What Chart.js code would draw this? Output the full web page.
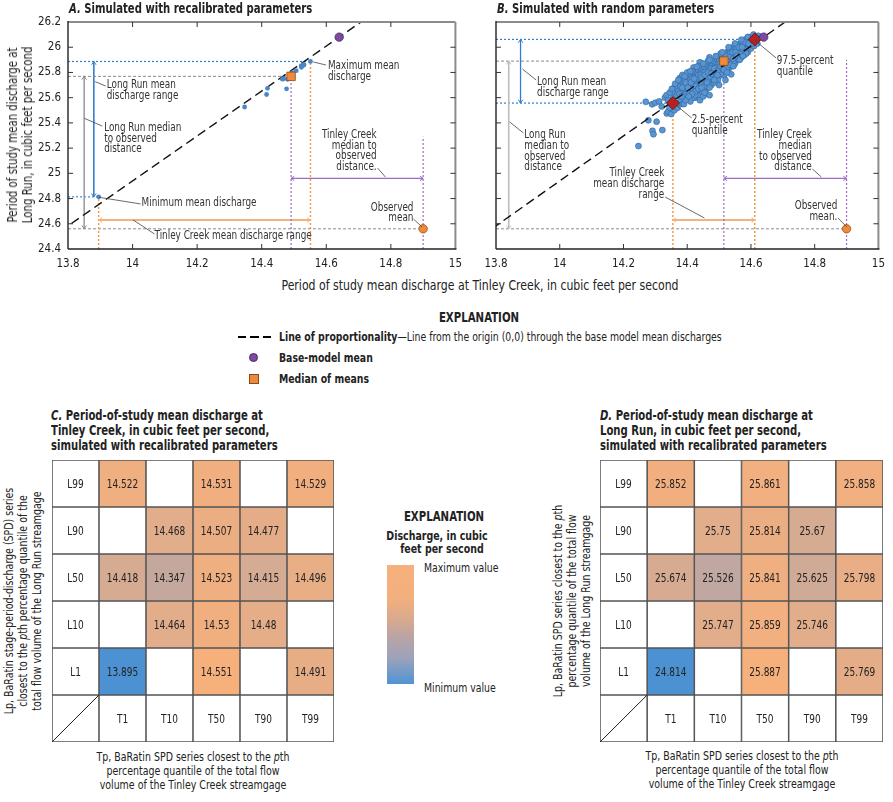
<!DOCTYPE html>
<html>
<head>
<meta charset="utf-8">
<script src="https://cdn.jsdelivr.net/npm/chart.js@4.4.1/dist/chart.umd.min.js"></script>
<style>
body { margin: 0; background: #fff; width: 893px; height: 802px; position: relative; overflow: hidden;
  font-family: "Liberation Sans Narrow", "DejaVu Sans Condensed", "Liberation Sans", sans-serif; color: #222; }
canvas { position: absolute; }
.t { position: absolute; white-space: nowrap; line-height: 1; transform: scaleX(0.83); transform-origin: 0 50%; }
.b { font-weight: bold; }
.title { font-size: 13.5px; font-weight: bold; line-height: 15px; }
.rot { position: absolute; white-space: nowrap; text-align: center; transform: translate(-50%, -50%) rotate(-90deg) scaleX(0.84); }
.ctr { position: absolute; white-space: nowrap; text-align: center; transform: translate(-50%, -50%) scaleX(0.84); }
</style>
</head>
<body>
<canvas id="chartA" width="470" height="275" style="left:0;top:0"></canvas>
<canvas id="chartB" width="423" height="275" style="left:470px;top:0"></canvas>
<canvas id="heatC" width="284" height="284" style="left:51px;top:459px"></canvas>
<canvas id="heatD" width="285" height="284" style="left:599px;top:459px"></canvas>

<div class="t title" style="left:69px;top:1px"><i>A.</i> Simulated with recalibrated parameters</div>
<div class="t title" style="left:497px;top:1px"><i>B.</i> Simulated with random parameters</div>
<div class="rot" style="left:20px;top:135px;font-size:13.5px;line-height:15px">Period of study mean discharge at<br>Long Run, in cubic feet per second</div>
<div class="ctr" style="left:480px;top:285px;font-size:13.5px;transform:translate(-50%,-50%) scaleX(0.9)">Period of study mean discharge at Tinley Creek, in cubic feet per second</div>

<div class="ctr b" style="left:479px;top:317px;font-size:13.5px">EXPLANATION</div>
<div style="position:absolute;left:238px;top:336px;width:33px;height:1.6px;background:repeating-linear-gradient(90deg,#000 0 8px,transparent 8px 12.5px)"></div>
<div class="t" style="left:279px;top:331px;font-size:12.5px"><b>Line of proportionality</b>—Line from the origin (0,0) through the base model mean discharges</div>
<div style="position:absolute;left:249px;top:353px;width:7px;height:7px;border-radius:50%;background:#7d4a9e;border:0.8px solid #4a2668"></div>
<div class="t b" style="left:279px;top:352px;font-size:12.5px">Base-model mean</div>
<div style="position:absolute;left:249px;top:374px;width:8px;height:8px;background:#ee8a3c;border:0.8px solid #8a4a18"></div>
<div class="t b" style="left:279px;top:373px;font-size:12.5px">Median of means</div>

<div class="t title" style="left:51px;top:408px"><i>C.</i> Period-of-study mean discharge at<br>Tinley Creek, in cubic feet per second,<br>simulated with recalibrated parameters</div>
<div class="t title" style="left:600px;top:408px"><i>D.</i> Period-of-study mean discharge at<br>Long Run, in cubic feet per second,<br>simulated with recalibrated parameters</div>

<div class="rot" style="left:23px;top:601px;font-size:12.5px;line-height:14px">Lp, BaRatin stage-period-discharge (SPD) series<br>closest to the <i>p</i>th percentage quantile of the<br>total flow volume of the Long Run streamgage</div>
<div class="ctr" style="left:193px;top:771px;font-size:12.5px;line-height:14px">Tp, BaRatin SPD series closest to the <i>p</i>th<br>percentage quantile of the total flow<br>volume of the Tinley Creek streamgage</div>
<div class="rot" style="left:572px;top:601px;font-size:12.5px;line-height:14px">Lp, BaRatin SPD series closest to the <i>p</i>th<br>percentage quantile of the total flow<br>volume of the Long Run streamgage</div>
<div class="ctr" style="left:742px;top:770px;font-size:12.5px;line-height:14px">Tp, BaRatin SPD series closest to the <i>p</i>th<br>percentage quantile of the total flow<br>volume of the Tinley Creek streamgage</div>

<div class="ctr b" style="left:444px;top:516px;font-size:13.5px">EXPLANATION</div>
<div class="ctr b" style="left:437px;top:542px;font-size:12.5px;line-height:12.5px">Discharge, in cubic<br>&nbsp;&nbsp;&nbsp;feet per second</div>
<div style="position:absolute;left:387px;top:565px;width:27px;height:119px;background:linear-gradient(to bottom,#f5b07c 0%,#f3af7e 28%,#d9aa8c 45%,#bba4a4 60%,#9ea2ba 78%,#4f94d4 100%)"></div>
<div class="t" style="left:424px;top:562px;font-size:12.5px">Maximum value</div>
<div class="t" style="left:424px;top:682px;font-size:12.5px">Minimum value</div>

<script>
// ---- data ----
const rowLabels = ['L99', 'L90', 'L50', 'L10', 'L1'];
const colLabels = ['T1', 'T10', 'T50', 'T90', 'T99'];

// panel C, Tinley Creek mean discharge (rows L99..L1, cols T1..T99)
const tinleyMeans = [
	[14.522, null, 14.531, null, 14.529],
	[null, 14.468, 14.507, 14.477, null],
	[14.418, 14.347, 14.523, 14.415, 14.496],
	[null, 14.464, 14.53, 14.48, null],
	[13.895, null, 14.551, null, 14.491],
];
// panel D, Long Run mean discharge
const longRunMeans = [
	[25.852, null, 25.861, null, 25.858],
	[null, 25.75, 25.814, 25.67, null],
	[25.674, 25.526, 25.841, 25.625, 25.798],
	[null, 25.747, 25.859, 25.746, null],
	[24.814, null, 25.887, null, 25.769],
];

const baseModelMean = [14.64, 26.08];
const observedMean = [14.9, 24.56];
const randomMedian = [14.515, 25.89];
const randomQ025 = [14.355, 25.557];
const randomQ975 = [14.612, 26.062];

const xTickValues = [13.8, 14, 14.2, 14.4, 14.6, 14.8, 15];
const yTickValues = [24.4, 24.6, 24.8, 25, 25.2, 25.4, 25.6, 25.8, 26, 26.2];

// panel B cloud of simulated means (Tinley, Long Run), read by eye
const randomMeans = [
	[14.247, 25.216], [14.291, 25.337], [14.294, 25.31], [14.304, 25.41], [14.322, 25.343], [14.278, 25.42],
	[14.27, 25.567], [14.29, 25.547], [14.30, 25.56], [14.312, 25.57], [14.336, 25.475], [14.34, 25.49],
	[14.35, 25.47], [14.36, 25.5], [14.345, 25.52], [14.33, 25.6], [14.335, 25.62], [14.32, 25.53],
	[14.34, 25.58], [14.355, 25.6], [14.36, 25.64], [14.365, 25.55], [14.37, 25.52], [14.375, 25.56],
	[14.372, 25.56], [14.368, 25.62], [14.371, 25.66], [14.367, 25.70],
	[14.38, 25.58], [14.383, 25.64], [14.378, 25.69], [14.381, 25.73], [14.386, 25.55],
	[14.39, 25.60], [14.393, 25.65], [14.388, 25.70], [14.391, 25.74], [14.396, 25.67],
	[14.40, 25.60], [14.403, 25.66], [14.398, 25.70], [14.401, 25.73], [14.404, 25.76], [14.397, 25.63],
	[14.41, 25.62], [14.407, 25.66], [14.412, 25.70], [14.409, 25.74], [14.413, 25.78], [14.406, 25.68],
	[14.42, 25.61], [14.417, 25.66], [14.423, 25.70], [14.418, 25.73], [14.421, 25.77], [14.424, 25.80],
	[14.43, 25.64], [14.427, 25.68], [14.433, 25.72], [14.428, 25.75], [14.431, 25.79], [14.434, 25.82], [14.426, 25.60],
	[14.44, 25.66], [14.437, 25.70], [14.443, 25.73], [14.438, 25.76], [14.441, 25.80], [14.444, 25.83], [14.436, 25.62],
	[14.45, 25.67], [14.447, 25.71], [14.453, 25.75], [14.448, 25.78], [14.451, 25.81], [14.454, 25.84], [14.446, 25.65],
	[14.46, 25.69], [14.457, 25.73], [14.463, 25.77], [14.458, 25.80], [14.461, 25.83], [14.464, 25.86], [14.456, 25.66],
	[14.47, 25.71], [14.467, 25.75], [14.473, 25.79], [14.468, 25.82], [14.471, 25.85], [14.474, 25.87], [14.466, 25.68],
	[14.48, 25.73], [14.477, 25.77], [14.483, 25.80], [14.478, 25.83], [14.481, 25.86], [14.484, 25.89], [14.476, 25.70],
	[14.49, 25.75], [14.487, 25.79], [14.493, 25.82], [14.488, 25.85], [14.491, 25.88], [14.494, 25.91],
	[14.50, 25.77], [14.497, 25.81], [14.503, 25.84], [14.498, 25.87], [14.501, 25.90], [14.504, 25.93], [14.496, 25.74],
	[14.51, 25.79], [14.507, 25.83], [14.513, 25.86], [14.508, 25.89], [14.511, 25.92], [14.514, 25.94],
	[14.52, 25.81], [14.517, 25.85], [14.523, 25.88], [14.518, 25.91], [14.521, 25.94], [14.524, 25.96], [14.516, 25.78],
	[14.53, 25.83], [14.527, 25.87], [14.533, 25.90], [14.528, 25.93], [14.531, 25.96], [14.534, 25.98],
	[14.54, 25.85], [14.537, 25.89], [14.543, 25.92], [14.538, 25.95], [14.541, 25.98], [14.544, 26.00],
	[14.55, 25.87], [14.547, 25.91], [14.553, 25.94], [14.548, 25.97], [14.551, 26.00], [14.554, 26.02],
	[14.56, 25.90], [14.557, 25.93], [14.563, 25.96], [14.558, 25.99], [14.561, 26.02],
	[14.57, 25.92], [14.567, 25.95], [14.573, 25.98], [14.568, 26.01], [14.571, 26.04],
	[14.58, 25.94], [14.577, 25.97], [14.583, 26.00], [14.578, 26.03], [14.581, 26.06],
	[14.59, 25.96], [14.587, 25.99], [14.593, 26.02], [14.588, 26.05], [14.591, 26.08],
	[14.60, 25.99], [14.597, 26.02], [14.603, 26.05], [14.598, 26.08],
	[14.61, 26.01], [14.607, 26.04], [14.613, 26.07], [14.608, 26.10],
	[14.62, 26.03], [14.617, 26.06], [14.623, 26.09],
	[14.42, 25.60], [14.44, 25.58], [14.46, 25.63], [14.47, 25.62], [14.50, 25.70], [14.52, 25.74],
	[14.538, 25.785], [14.522, 25.82], [14.45, 25.61], [14.39, 25.55], [14.41, 25.57], [14.47, 25.68],
	[14.36, 25.68], [14.377, 25.756], [14.40, 25.80], [14.42, 25.84], [14.44, 25.88], [14.47, 25.92],
	[14.375, 25.63], [14.385, 25.68], [14.395, 25.72], [14.405, 25.64], [14.415, 25.75], [14.425, 25.69],
	[14.435, 25.78], [14.445, 25.71], [14.455, 25.80], [14.465, 25.74], [14.475, 25.83], [14.485, 25.76],
	[14.495, 25.86], [14.505, 25.79], [14.515, 25.92], [14.525, 25.84], [14.535, 25.95], [14.545, 25.88],
	[14.555, 25.99], [14.565, 25.95], [14.575, 26.02], [14.585, 25.98], [14.595, 26.05], [14.605, 26.03],
	[14.615, 26.08], [14.425, 25.62], [14.455, 25.64], [14.485, 25.72], [14.395, 25.58], [14.435, 25.85],
	[14.465, 25.89], [14.505, 25.95], [14.385, 25.78], [14.415, 25.81],
	[14.345, 25.64], [14.352, 25.67], [14.362, 25.71], [14.372, 25.74], [14.383, 25.61], [14.392, 25.77],
	[14.402, 25.68], [14.412, 25.72], [14.422, 25.75], [14.432, 25.66], [14.442, 25.78], [14.452, 25.69],
	[14.462, 25.72], [14.472, 25.77], [14.482, 25.81], [14.492, 25.84], [14.502, 25.87], [14.512, 25.90],
	[14.522, 25.93], [14.532, 25.92], [14.542, 25.96], [14.552, 25.96], [14.562, 26.00], [14.572, 26.00],
	[14.582, 26.04], [14.592, 26.03], [14.602, 26.06],
	[14.43, 25.845], [14.45, 25.87], [14.47, 25.90], [14.49, 25.93], [14.51, 25.96], [14.53, 26.00],
	[14.55, 26.03], [14.57, 26.06], [14.59, 26.08], [14.41, 25.81],
	[14.445, 25.76], [14.455, 25.78], [14.465, 25.80], [14.475, 25.79], [14.485, 25.83], [14.495, 25.81],
	[14.505, 25.85], [14.515, 25.82], [14.525, 25.89], [14.535, 25.86], [14.545, 25.91], [14.555, 25.93],
	[14.425, 25.65], [14.435, 25.67], [14.415, 25.63], [14.405, 25.61], [14.445, 25.68], [14.485, 25.74],
	[14.495, 25.78], [14.525, 25.80], [14.545, 25.85], [14.565, 25.90], [14.585, 25.95], [14.575, 25.93],
];

// ---- helpers ----
const FONT = '"Liberation Sans Narrow", "DejaVu Sans Condensed", "Liberation Sans", sans-serif';
Chart.defaults.font.family = FONT;
Chart.defaults.font.size = 11.5;
Chart.defaults.color = '#222';

const median = arr => {
	const s = [...arr].sort((a, b) => a - b);
	const m = Math.floor(s.length / 2);
	return s.length % 2 ? s[m] : (s[m - 1] + s[m]) / 2;
};

// recalibrated runs: pair each Tinley cell with the same Long Run cell
const recalPoints = [];
tinleyMeans.forEach((row, r) =>
	row.forEach((v, c) => {
		if (v != null) recalPoints.push({ x: v, y: longRunMeans[r][c] });
	}),
);
const recalMedian = [median(recalPoints.map(p => p.x)), median(recalPoints.map(p => p.y))];
const recalMin = recalPoints.reduce((a, p) => (p.y < a.y ? p : a));
const recalMax = recalPoints.reduce((a, p) => (p.y > a.y ? p : a));

const slope = baseModelMean[1] / baseModelMean[0];
const proportionLine = [{ x: 0, y: 0 }, { x: 15, y: 15 * slope }];

function seg(ctx, a, b, color, width, dash) {
	ctx.save();
	ctx.strokeStyle = color;
	ctx.lineWidth = width;
	ctx.setLineDash(dash || []);
	ctx.beginPath();
	ctx.moveTo(a[0], a[1]);
	ctx.lineTo(b[0], b[1]);
	ctx.stroke();
	ctx.restore();
}

// condensed text: the original face is narrower than what is installed
function narrowText(ctx, s, x, y, sx) {
	ctx.save();
	ctx.translate(x, y);
	ctx.scale(sx, 1);
	ctx.fillText(s, 0, 0);
	ctx.restore();
}

function arrow2(ctx, a, b, color, width) {
	seg(ctx, a, b, color, width);
	const ang = Math.atan2(b[1] - a[1], b[0] - a[0]);
	[[b, ang], [a, ang + Math.PI]].forEach(([p, t]) => {
		ctx.save();
		ctx.strokeStyle = color;
		ctx.lineWidth = 1;
		ctx.beginPath();
		ctx.moveTo(p[0] - 4 * Math.cos(t - 0.6), p[1] - 4 * Math.sin(t - 0.6));
		ctx.lineTo(p[0], p[1]);
		ctx.lineTo(p[0] - 4 * Math.cos(t + 0.6), p[1] - 4 * Math.sin(t + 0.6));
		ctx.stroke();
		ctx.restore();
	});
}

// annotation plugin: guide lines, labels, frame and inward ticks
function makeOverlay(spec) {
	const P = (chart, x, y) => [chart.scales.x.getPixelForValue(x), chart.scales.y.getPixelForValue(y)];
	return {
		id: 'overlay',
		beforeDatasetsDraw(chart) {
			const ctx = chart.ctx;
			spec.lines.forEach(l => {
				const a = P(chart, l.from[0], l.from[1]);
				const b = P(chart, l.to[0], l.to[1]);
				if (l.arrow) arrow2(ctx, a, b, l.color, l.width);
				else seg(ctx, a, b, l.color, l.width, l.dash);
			});
		},
		afterDatasetsDraw(chart) {
			const ctx = chart.ctx;
			spec.labels.forEach(t => {
				seg(ctx, P(chart, t.lead[0][0], t.lead[0][1]), P(chart, t.lead[1][0], t.lead[1][1]), '#444', 0.8);
				const p = P(chart, t.at[0], t.at[1]);
				ctx.save();
				ctx.font = '12px ' + FONT;
				ctx.fillStyle = '#333';
				ctx.textAlign = t.align || 'left';
				ctx.textBaseline = 'middle';
				t.text.forEach((s, i) => narrowText(ctx, s, p[0], p[1] + i * 10.7, 0.82));
				ctx.restore();
			});
			// frame
			const { left, right, top, bottom } = chart.chartArea;
			seg(ctx, [left, top], [right, top], '#8c8c8c', 2);
			seg(ctx, [right, top], [right, bottom], '#8c8c8c', 2);
			seg(ctx, [left, top - 1], [left, bottom], '#222', 1.4);
			seg(ctx, [left, bottom], [right + 1, bottom], '#222', 1.4);
			chart.scales.x.ticks.forEach(tk => {
				const x = chart.scales.x.getPixelForValue(tk.value);
				if (x <= left + 1 || x >= right - 1) return;
				seg(ctx, [x, bottom], [x, bottom - 5], '#333', 1);
				seg(ctx, [x, top], [x, top + 5], '#333', 1);
			});
			chart.scales.y.ticks.forEach(tk => {
				const y = chart.scales.y.getPixelForValue(tk.value);
				if (y <= top + 1 || y >= bottom - 1) return;
				seg(ctx, [left, y], [left + 5, y], '#333', 1);
				seg(ctx, [right, y], [right - 5, y], '#333', 1);
			});
		},
	};
}

function scatterOptions(padLeftWidth, padRight, showY) {
	return {
		responsive: false,
		animation: false,
		layout: { padding: { top: 22, right: padRight, left: 0, bottom: 0 } },
		plugins: { legend: { display: false }, tooltip: { enabled: false } },
		scales: {
			x: {
				type: 'linear', min: 13.8, max: 15,
				afterBuildTicks: s => { s.ticks = xTickValues.map(v => ({ value: v })); },
				afterFit: s => { s.height = 26; },
				grid: { display: false, drawTicks: false },
				border: { display: false },
				ticks: { padding: 8, maxRotation: 0, autoSkip: false, callback: v => String(+v.toFixed(1)) },
			},
			y: {
				type: 'linear', min: 24.4, max: 26.2,
				afterBuildTicks: s => { s.ticks = yTickValues.map(v => ({ value: v })); },
				afterFit: s => { s.width = padLeftWidth; },
				grid: { display: false, drawTicks: false },
				border: { display: false },
				ticks: { display: showY, padding: 7, callback: v => String(+v.toFixed(1)) },
			},
		},
	};
}

const lineDataset = {
	type: 'line', data: proportionLine, borderColor: '#111', borderWidth: 1.4,
	borderDash: [9, 5], pointRadius: 0, fill: false, order: 5,
};
const pointDs = (data, style, r, bg, border, order, bw) => ({
	type: 'scatter', data: data.map(p => (Array.isArray(p) ? { x: p[0], y: p[1] } : p)),
	pointStyle: style, pointRadius: r, backgroundColor: bg, borderColor: border,
	borderWidth: bw == null ? 0.8 : bw, order,
});

// ---- panel A ----
const xMin = 13.8, yMin = 24.4;
const blue = '#2f7fcf', orange = '#f29a4e', purple = '#9a6cc4';
const specA = {
	lines: [
		{ from: [xMin, recalMax.y], to: [recalMax.x, recalMax.y], color: blue, width: 1.2, dash: [2, 2] },
		{ from: [xMin, recalMin.y], to: [recalMin.x, recalMin.y], color: '#6aa8e2', width: 1.6, dash: [2, 2] },
		{ from: [13.88, recalMin.y], to: [13.88, recalMax.y], color: blue, width: 1.6, arrow: true },
		{ from: [xMin, recalMedian[1]], to: [recalMedian[0], recalMedian[1]], color: '#8a8a8a', width: 1, dash: [3, 2] },
		{ from: [xMin, observedMean[1]], to: [observedMean[0], observedMean[1]], color: '#8a8a8a', width: 1, dash: [3, 2] },
		{ from: [13.85, observedMean[1]], to: [13.85, recalMedian[1]], color: '#888', width: 1.3, arrow: true },
		{ from: [recalMin.x, yMin], to: [recalMin.x, recalMin.y], color: orange, width: 1.5, dash: [2, 2] },
		{ from: [recalMax.x, yMin], to: [recalMax.x, recalMax.y], color: orange, width: 1.5, dash: [2, 2] },
		{ from: [recalMin.x, 24.63], to: [recalMax.x, 24.63], color: '#f6b27e', width: 1.8, arrow: true },
		{ from: [recalMedian[0], yMin], to: [recalMedian[0], recalMedian[1]], color: purple, width: 1.2, dash: [2, 2] },
		{ from: [observedMean[0], yMin], to: [observedMean[0], 25.29], color: purple, width: 1.2, dash: [2, 2] },
		{ from: [recalMedian[0], 24.96], to: [observedMean[0], 24.96], color: purple, width: 1.3, arrow: true },
	],
	labels: [
		{ text: ['Long Run mean', 'discharge range'], at: [13.92, 25.7], lead: [[13.884, 25.727], [13.917, 25.692]] },
		{ text: ['Long Run median', 'to observed', 'distance'], at: [13.912, 25.362], lead: [[13.851, 25.436], [13.906, 25.375]] },
		{ text: ['Minimum mean discharge'], at: [14.028, 24.765], lead: [[13.896, 24.81], [14.025, 24.757]] },
		{ text: ['Tinley Creek mean discharge range'], at: [14.068, 24.505], lead: [[14.002, 24.63], [14.068, 24.519]] },
		{ text: ['Maximum mean', 'discharge'], at: [14.605, 25.851], lead: [[14.56, 25.883], [14.599, 25.859]] },
		{ text: ['Tinley Creek', 'median to', 'observed', 'distance.'], at: [14.756, 25.306], align: 'right', lead: [[14.759, 25.042], [14.783, 24.971]] },
		{ text: ['Observed', 'mean'], at: [14.87, 24.73], align: 'right', lead: [[14.87, 24.638], [14.897, 24.574]] },
	],
};

new Chart(document.getElementById('chartA'), {
	type: 'scatter',
	data: {
		datasets: [
			pointDs([observedMean], 'circle', 4.2, '#ee8a3c', '#9a4e16', 0),
			pointDs([baseModelMean], 'circle', 4.2, '#7d4a9e', '#4a2668', 0),
			pointDs([recalMedian], 'rect', 6, '#ee8a3c', '#8a4a18', 1),
			pointDs(recalPoints, 'circle', 2.4, '#4a87c8', '#4a87c8', 3, 0),
			lineDataset,
		],
	},
	options: scatterOptions(68, 4, true),
	plugins: [makeOverlay(specA)],
});

// ---- panel B ----
const specB = {
	lines: [
		{ from: [xMin, randomQ975[1]], to: [randomQ975[0], randomQ975[1]], color: blue, width: 1.2, dash: [2, 2] },
		{ from: [xMin, randomQ025[1]], to: [randomQ025[0], randomQ025[1]], color: blue, width: 1.2, dash: [2, 2] },
		{ from: [13.877, randomQ025[1]], to: [13.877, randomQ975[1]], color: blue, width: 1.3, arrow: true },
		{ from: [xMin, randomMedian[1]], to: [randomMedian[0], randomMedian[1]], color: '#8a8a8a', width: 1, dash: [3, 2] },
		{ from: [xMin, observedMean[1]], to: [observedMean[0], observedMean[1]], color: '#8a8a8a', width: 1, dash: [3, 2] },
		{ from: [13.84, observedMean[1]], to: [13.84, randomMedian[1]], color: '#bdbdbd', width: 1.6, arrow: true },
		{ from: [randomQ025[0], yMin], to: [randomQ025[0], randomQ025[1]], color: orange, width: 1.5, dash: [2, 2] },
		{ from: [randomQ975[0], yMin], to: [randomQ975[0], randomQ975[1]], color: orange, width: 1.5, dash: [2, 2] },
		{ from: [randomQ025[0], 24.63], to: [randomQ975[0], 24.63], color: '#f6b27e', width: 1.8, arrow: true },
		{ from: [randomMedian[0], yMin], to: [randomMedian[0], randomMedian[1]], color: purple, width: 1.2, dash: [2, 2] },
		{ from: [observedMean[0], yMin], to: [observedMean[0], 25.9], color: purple, width: 1.2, dash: [2, 2] },
		{ from: [randomMedian[0], 24.96], to: [observedMean[0], 24.96], color: purple, width: 1.3, arrow: true },
	],
	labels: [
		{ text: ['97.5-percent', 'quantile'], at: [14.681, 25.893], lead: [[14.611, 26.057], [14.679, 25.915]] },
		{ text: ['2.5-percent', 'quantile'], at: [14.414, 25.42], lead: [[14.368, 25.534], [14.414, 25.439]] },
		{ text: ['Long Run mean', 'discharge range'], at: [13.929, 25.722], lead: [[13.883, 25.827], [13.926, 25.74]] },
		{ text: ['Long Run', 'median to', 'observed', 'distance'], at: [13.889, 25.304], lead: [[13.843, 25.407], [13.886, 25.32]] },
		{ text: ['Tinley Creek', 'mean discharge', 'range'], at: [14.328, 25.0], align: 'right', lead: [[14.331, 24.812], [14.454, 24.646]] },
		{ text: ['Tinley Creek', 'median', 'to observed', 'distance'], at: [14.791, 25.304], align: 'right', lead: [[14.793, 25.034], [14.821, 24.971]] },
		{ text: ['Observed', 'mean.'], at: [14.871, 24.743], align: 'right', lead: [[14.873, 24.646], [14.901, 24.574]] },
	],
};

new Chart(document.getElementById('chartB'), {
	type: 'scatter',
	data: {
		datasets: [
			pointDs([observedMean], 'circle', 4.2, '#ee8a3c', '#9a4e16', 0),
			pointDs([baseModelMean], 'circle', 4.2, '#7d4a9e', '#4a2668', 0),
			pointDs([randomQ025, randomQ975], 'rectRot', 6.5, '#b5221f', '#5e0d0d', 1),
			pointDs([randomMedian], 'rect', 6, '#ee8a3c', '#8a4a18', 1),
			lineDataset,
			pointDs(randomMeans, 'circle', 3, '#5a95cf', '#2d66a5', 8, 0.6),
		],
	},
	options: scatterOptions(26, 8, false),
	plugins: [makeOverlay(specB)],
});

// ---- panels C and D: tables drawn as floating bars ----
const cmapStops = [
	[0, [76, 146, 210]],
	[0.45, [160, 160, 182]],
	[0.69, [196, 168, 158]],
	[1, [246, 176, 124]],
];
function cmap(t) {
	for (let i = 1; i < cmapStops.length; i++) {
		if (t <= cmapStops[i][0]) {
			const [t0, c0] = cmapStops[i - 1];
			const [t1, c1] = cmapStops[i];
			const u = (t - t0) / (t1 - t0);
			return 'rgb(' + c0.map((c, k) => Math.round(c + (c1[k] - c) * u)).join(',') + ')';
		}
	}
	return 'rgb(246,176,124)';
}

function heatmap(id, values) {
	const flat = values.flat().filter(v => v != null);
	const lo = Math.min(...flat), hi = Math.max(...flat);
	const nRows = rowLabels.length + 1;
	const datasets = [];
	const texts = [];
	for (let r = 0; r < nRows; r++) {
		const colors = [];
		const data = [];
		for (let c = 0; c <= colLabels.length; c++) {
			data.push([nRows - 1 - r, nRows - r]);
			let col = '#fff', txt = '';
			if (r < rowLabels.length && c === 0) txt = rowLabels[r];
			else if (r < rowLabels.length) {
				const v = values[r][c - 1];
				if (v != null) { col = cmap((v - lo) / (hi - lo)); txt = String(v); }
			} else if (c > 0) txt = colLabels[c - 1];
			colors.push(col);
			texts.push({ r, c, txt });
		}
		datasets.push({
			data, backgroundColor: colors, borderColor: '#555', borderWidth: 1.1,
			borderSkipped: false, barPercentage: 1, categoryPercentage: 1, grouped: false,
		});
	}
	new Chart(document.getElementById(id), {
		type: 'bar',
		data: { labels: ['', ...colLabels], datasets },
		options: {
			responsive: false,
			animation: false,
			layout: { padding: 1 },
			plugins: { legend: { display: false }, tooltip: { enabled: false } },
			scales: {
				x: { display: false },
				y: { display: false, min: 0, max: nRows },
			},
		},
		plugins: [{
			id: 'cellText',
			afterDatasetsDraw(chart) {
				const ctx = chart.ctx;
				ctx.save();
				ctx.font = '12.5px ' + FONT;
				ctx.fillStyle = '#222';
				ctx.textAlign = 'center';
				ctx.textBaseline = 'middle';
				texts.forEach(t => {
					const el = chart.getDatasetMeta(t.r).data[t.c];
					const cy = (el.y + el.base) / 2;
					if (t.r === nRows - 1 && t.c === 0) {
						seg(ctx, [el.x - el.width / 2, el.base], [el.x + el.width / 2, el.y], '#222', 1);
					} else if (t.txt) {
						narrowText(ctx, t.txt, el.x, cy + 1, 0.8);
					}
				});
				ctx.restore();
			},
		}],
	});
}

heatmap('heatC', tinleyMeans);
heatmap('heatD', longRunMeans);
</script>
</body>
</html>
